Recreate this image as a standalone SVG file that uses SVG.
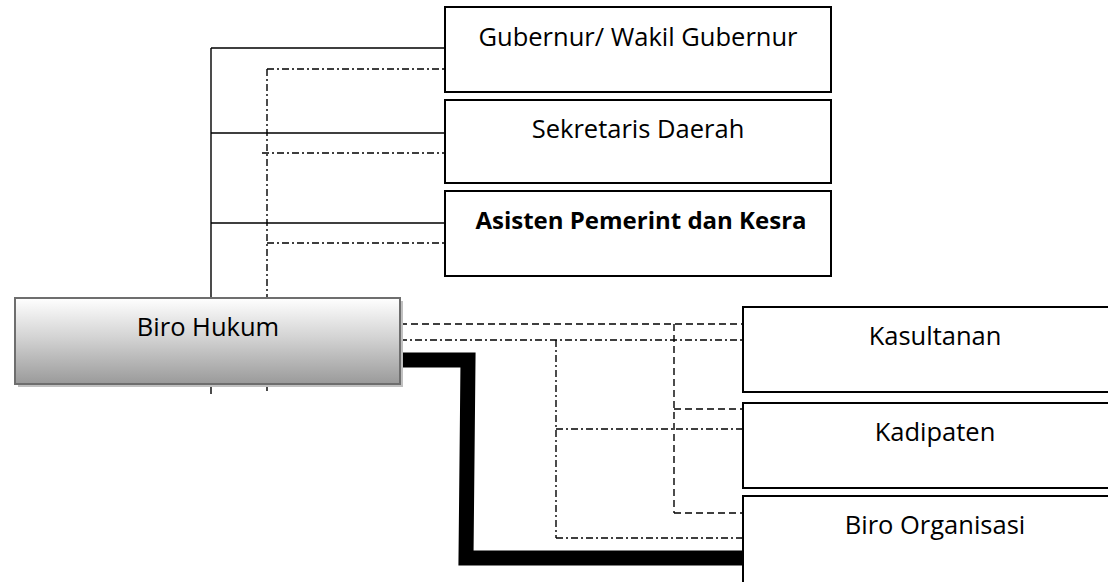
<svg xmlns="http://www.w3.org/2000/svg" width="1108" height="582" viewBox="0 0 1108 582">
  <defs>
    <linearGradient id="hukumFill" x1="0" y1="0" x2="0" y2="1">
      <stop offset="0" stop-color="#ffffff"/>
      <stop offset="0.45" stop-color="#d4d4d4"/>
      <stop offset="1" stop-color="#9a9a9a"/>
    </linearGradient>
  </defs>
  <style>
    .box { fill: #ffffff; stroke: #000000; stroke-width: 2; }
    .label { font-family: "Open Sans", "Liberation Sans", sans-serif; font-size: 25.5px; fill: #000000; text-anchor: middle; }
    .bold { font-weight: bold; font-size: 24px; }
    .solid { fill: none; stroke: #000000; stroke-width: 1.4; }
    .dash { fill: none; stroke: #000000; stroke-width: 1.4; stroke-dasharray: 7 4; }
    .dashdot { fill: none; stroke: #000000; stroke-width: 1.4; stroke-dasharray: 7 3 2 3; }
    .thick { fill: none; stroke: #000000; stroke-width: 15; stroke-linejoin: miter; }
  </style>

  <!-- connectors -->
  <g id="connectors">
    <!-- solid lines to the upper hierarchy -->
    <path class="solid" d="M211 48 V298 M211 384 V394 M211 48 H445 M211 133 H445 M211 223 H445"/>
    <!-- dash-dot lines to the upper hierarchy -->
    <path class="dashdot" d="M267 69 V298 M267 384 V394 M267 69 H445 M262 153 H445 M267 243 H445"/>
    <!-- dashed lines to the right-hand units -->
    <path class="dash" d="M400 324 H743 M674 324 V513 M674 409 H743 M674 513 H743"/>
    <!-- dash-dot lines to the right-hand units -->
    <path class="dashdot" d="M400 340 H743 M556 340 V538 M556 429 H743 M556 538 H743"/>
    <!-- heavy line to Biro Organisasi -->
    <path class="thick" d="M400 360 H468 L466 558 H743"/>
  </g>

  <g id="gubernur">
    <rect class="box" x="445" y="7" width="386" height="85"/>
    <text class="label" x="638" y="46">Gubernur/ Wakil Gubernur</text>
  </g>
  <g id="sekda">
    <rect class="box" x="445" y="100" width="386" height="83"/>
    <text class="label" x="638" y="138">Sekretaris Daerah</text>
  </g>
  <g id="asisten">
    <rect class="box" x="445" y="191" width="386" height="85"/>
    <text class="label bold" x="641" y="229">Asisten Pemerint dan Kesra</text>
  </g>

  <g id="biro-hukum">
    <rect x="18" y="301" width="385" height="86" fill="#c0c0c0"/>
    <rect x="15" y="298" width="385" height="86" fill="url(#hukumFill)" stroke="#6e6e6e" stroke-width="2"/>
    <text class="label" x="208" y="336">Biro Hukum</text>
  </g>

  <g id="kasultanan">
    <rect class="box" x="743" y="307" width="386" height="85"/>
    <text class="label" x="935" y="345">Kasultanan</text>
  </g>
  <g id="kadipaten">
    <rect class="box" x="743" y="403" width="386" height="85"/>
    <text class="label" x="935" y="441">Kadipaten</text>
  </g>
  <g id="biro-organisasi">
    <rect class="box" x="743" y="496" width="386" height="90"/>
    <text class="label" x="935" y="534">Biro Organisasi</text>
  </g>
</svg>
